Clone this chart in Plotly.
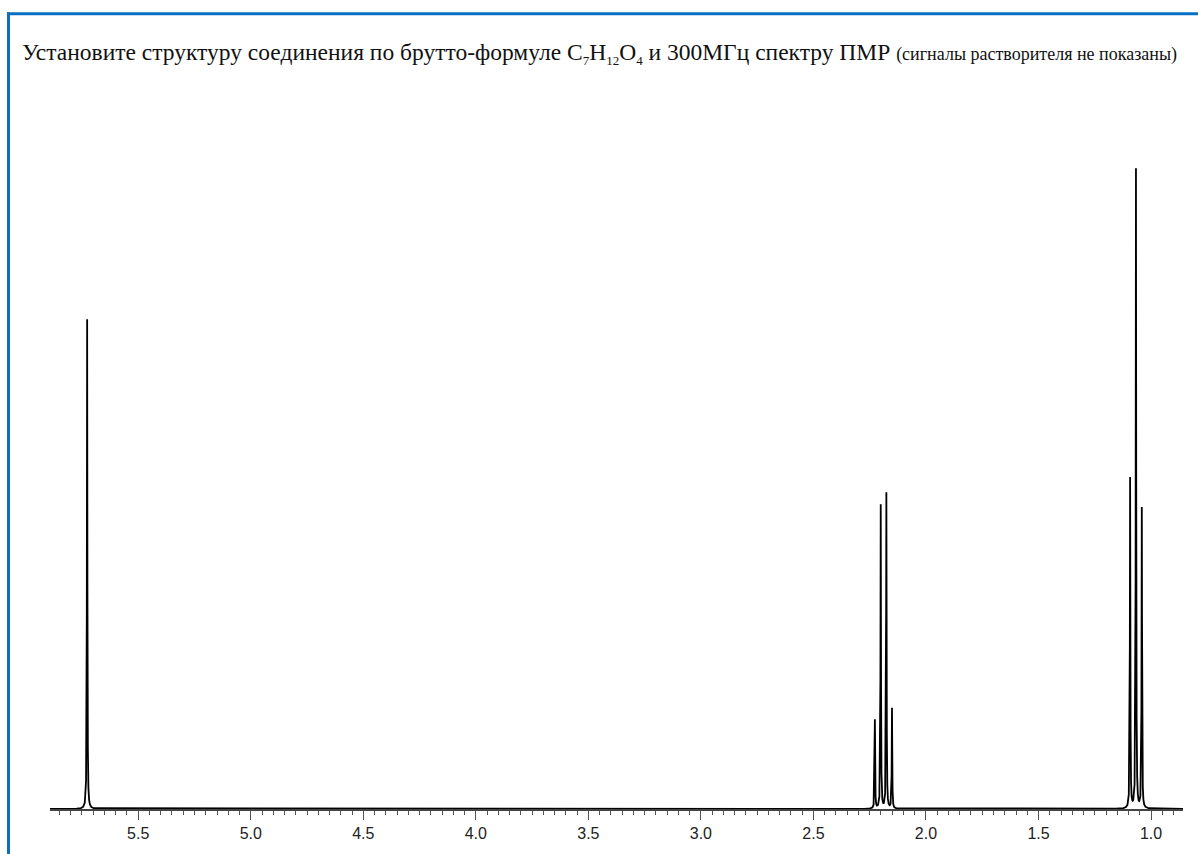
import numpy as np
import plotly.graph_objects as go

# Peak list (chemical shift, ppm) and relative intensities (tallest line = 100)
singlet_ppm = [5.727]
singlet_int = [76.6]

quartet_ppm = [2.227, 2.201, 2.176, 2.151]
quartet_int = [13.9, 47.5, 49.4, 15.7]

triplet_ppm = [1.093, 1.067, 1.041]
triplet_int = [51.7, 100.0, 47.0]

major_ticks = [5.5, 5.0, 4.5, 4.0, 3.5, 3.0, 2.5, 2.0, 1.5, 1.0]
tick_labels = ["5.5", "5.0", "4.5", "4.0", "3.5", "3.0", "2.5", "2.0", "1.5", "1.0"]

x_range = [5.892, 0.858]
y_top = 110.9
half_width = 0.0012  # Lorentzian half width at half height, ppm

centers = np.array(singlet_ppm + quartet_ppm + triplet_ppm)
heights = np.array(singlet_int + quartet_int + triplet_int)

# sampling grid: coarse everywhere, fine around every line
grid = [np.arange(x_range[1], x_range[0], 0.0005)]
for c in centers:
    grid.append(np.arange(c - 0.03, c + 0.03, 0.00004))
grid.append(centers)
ppm = np.unique(np.concatenate(grid))

w2 = half_width ** 2
spectrum = np.zeros_like(ppm)
for c, h in zip(centers, heights):
    spectrum += h * w2 / (w2 + (ppm - c) ** 2)

fig = go.Figure()
fig.add_trace(go.Scatter(
    x=ppm, y=spectrum, mode="lines",
    line=dict(color="#000000", width=1.8),
    hoverinfo="skip", showlegend=False,
))

W, H = 1198, 854
L, R, T, B = 50, 15, 100, 42
pw, ph = W - L - R, H - T - B


def px_x(px):
    return (px - L) / pw


def px_y(py):
    return (H - B - py) / ph


blue = "#0A6FC2"
shapes = [
    # frame: top and left rules
    dict(type="line", xref="paper", yref="paper",
         x0=px_x(7), x1=px_x(W + 5), y0=px_y(13.5), y1=px_y(13.5),
         line=dict(color=blue, width=3)),
    dict(type="line", xref="paper", yref="paper",
         x0=px_x(8.5), x1=px_x(8.5), y0=px_y(12), y1=px_y(H + 5),
         line=dict(color=blue, width=3)),
]

title_html = (
    "Установите структуру соединения по брутто-формуле "
    "C<sub><span style='font-size:13px'>7</span></sub>"
    "H<sub><span style='font-size:13px'>12</span></sub>"
    "O<sub><span style='font-size:13px'>4</span></sub> и 300МГц спектру ПМР "
    "<span style='font-size:18px'>(сигналы растворителя не показаны)</span>"
)

fig.update_layout(
    width=W, height=H,
    margin=dict(l=L, r=R, t=T, b=B, pad=0),
    paper_bgcolor="white", plot_bgcolor="white",
    shapes=shapes,
    title=dict(
        text=title_html,
        xref="container", yref="container",
        x=22 / W, xanchor="left",
        y=1 - 52 / H, yanchor="middle",
        font=dict(family="Liberation Serif, Times New Roman, serif", size=23.5, color="#111111"),
    ),
    xaxis=dict(
        range=x_range,
        tickmode="array", tickvals=major_ticks, ticktext=tick_labels,
        ticks="outside", ticklen=9, tickwidth=1, tickcolor="#555555",
        minor=dict(dtick=0.05, tick0=0, ticks="outside", ticklen=4,
                   tickwidth=1, tickcolor="#555555", showgrid=False),
        showline=True, linecolor="#444444", linewidth=1.5,
        showgrid=False, zeroline=False,
        tickfont=dict(family="Liberation Sans, Arial, sans-serif", size=16, color="#222222"),
    ),
    yaxis=dict(range=[0, y_top], visible=False, showgrid=False, zeroline=False),
)

fig.write_html("out.html")
